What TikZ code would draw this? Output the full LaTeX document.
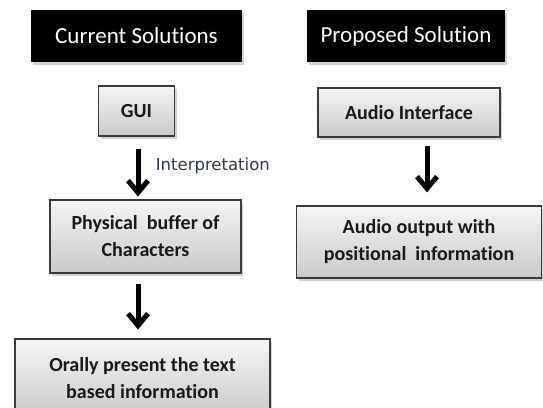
\documentclass[tikz,border=0pt]{standalone}
\usepackage{fontspec}
\setmainfont{Carlito}[RawFeature={-liga;-clig;-calt}]
\newfontfamily\labelfont{DejaVu Sans}
\usetikzlibrary{arrows.meta,shadows}
\definecolor{boxline}{HTML}{3A3A3A}
\definecolor{labelcol}{HTML}{2E3850}

\begin{document}
\begin{tikzpicture}[x=1pt,y=-1pt,
    hdr/.style={fill=black,text=white,inner sep=0pt,align=center,
      font=\fontsize{23}{26}\selectfont,
      drop shadow={shadow xshift=2pt,shadow yshift=-3pt,opacity=0.35}},
    blk/.style={draw=boxline,line width=1.1pt,top color=gray!8,bottom color=gray!42,
      inner sep=0pt,align=center,text=black!90,
      font=\fontsize{20}{27}\selectfont\bfseries,
      drop shadow={shadow xshift=2pt,shadow yshift=-3pt,opacity=0.35}},
    arr/.style={line width=5pt,-{Straight Barb[length=12pt,width=20pt]}}]
    % 画布
    \clip (0,0) rectangle (543,407);
    \useasboundingbox (0,0) rectangle (543,407);

    % 标题
    \node[hdr,minimum width=211pt,minimum height=52pt] (cur) at (136.5,36) {Current Solutions};
    \node[hdr,minimum width=198pt,minimum height=52pt] (prop) at (406,36) {Proposed Solution};

    % 左列
    \node[blk,minimum width=76pt,minimum height=50pt] (gui) at (136.5,111) {GUI};
    \node[blk,minimum width=191pt,minimum height=73pt] (buf) at (145.5,236.5) {Physical\ \ buffer of\\Characters};
    \node[blk,minimum width=255pt,minimum height=78pt] (oral) at (142.5,378) {Orally present the text\\based information};

    % 右列
    \node[blk,minimum width=182pt,minimum height=49pt] (audio) at (409,112.5) {Audio Interface};
    \node[blk,minimum width=245pt,minimum height=72pt] (out) at (419,242) {Audio output with\\positional\ \ information};

    % 箭头
    \draw[arr,shorten <=12pt,shorten >=3pt] ([xshift=1.5pt]gui.south) -- ([xshift=1.5pt]gui.south |- buf.north)
      node[pos=0.46,anchor=west,xshift=12pt,text=labelcol,font=\labelfont\fontsize{16.5}{20}\selectfont] (interp) {Interpretation};
    \draw[arr,shorten <=10pt,shorten >=9pt] ([xshift=1.5pt]gui.south |- buf.south) -- ([xshift=1.5pt]gui.south |- oral.north);
    \draw[arr,shorten <=8pt,shorten >=13pt] ([xshift=18pt]audio.south) -- ([xshift=18pt]audio.south |- out.north);
\end{tikzpicture}
\end{document}
